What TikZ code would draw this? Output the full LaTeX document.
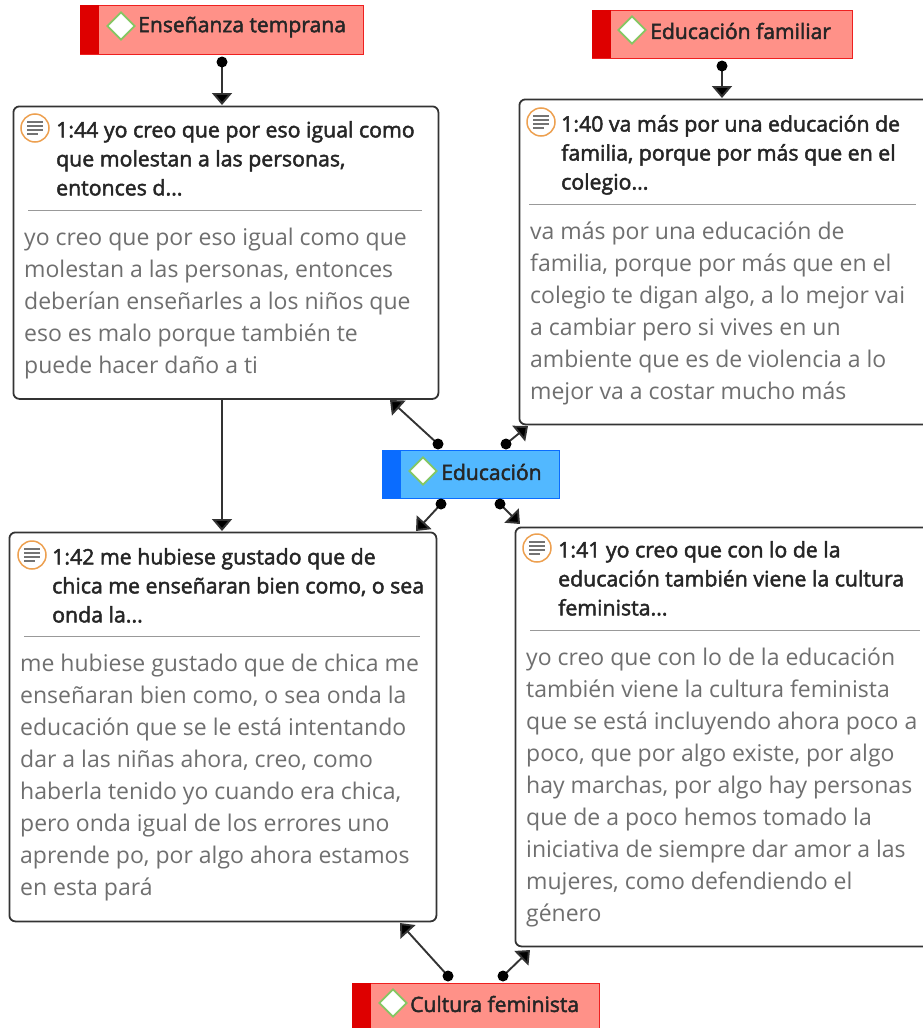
\documentclass[tikz,border=0pt]{standalone}
\usepackage{fontspec}
\setmainfont{Open Sans}
\newfontfamily\titlefont[FakeBold=2.2]{Open Sans}
\usetikzlibrary{arrows.meta,shapes.geometric}
\definecolor{redfill}{HTML}{FF9188}
\definecolor{redband}{HTML}{DE0000}
\definecolor{redline}{HTML}{EE2020}
\definecolor{bluefill}{HTML}{52B8FF}
\definecolor{blueband}{HTML}{0A6CFF}
\definecolor{greenline}{HTML}{84C763}
\definecolor{memoorange}{HTML}{EDA050}
\definecolor{bodygray}{HTML}{6F6F6F}
\definecolor{frame}{HTML}{333333}
\tikzset{
  x=1pt,y=-1pt,
  quotebox/.style={draw=frame,line width=1.8pt,rounded corners=6pt,fill=white,anchor=north west,inner sep=0pt},
  codered/.style={draw=redline,line width=1.3pt,fill=redfill,anchor=north west,inner sep=0pt},
  codeblue/.style={draw=blueband,line width=1.3pt,fill=bluefill,anchor=north west,inner sep=0pt},
  bandred/.style={fill=redband,anchor=north west,inner sep=0pt,minimum width=19pt},
  bandblue/.style={fill=blueband,anchor=north west,inner sep=0pt,minimum width=19pt},
  codemark/.style={diamond,draw=greenline,line width=1.8pt,fill=white,minimum width=28pt,minimum height=28pt,inner sep=0pt},
  codelabel/.style={anchor=west,inner sep=0pt,text=black!85,font=\titlefont\fontsize{21.1}{24}\selectfont},
  titletext/.style={anchor=north west,inner sep=0pt,align=left,text=black!85,font=\titlefont\fontsize{21.3}{29}\selectfont},
  bodytext/.style={anchor=north west,inner sep=0pt,align=left,text=bodygray,font=\fontsize{23}{32}\selectfont},
  memomark/.style={circle,draw=memoorange,line width=1.5pt,fill=white,minimum size=28pt,inner sep=0pt},
  rulebar/.style={draw=black!40,line width=1pt},
  memoline/.style={draw=black!55,line width=1.2pt},
  link/.style={draw=frame,line width=1.9pt,-{Triangle[length=12pt,width=20pt,fill=black]}},
  dot/.style={fill=black},
}
\newcommand{\memoglyph}[1]{%
  \draw[memoline] ([shift={(-8,-6)}]#1.center) -- ++(16,0);
  \draw[memoline] ([shift={(-8,-2)}]#1.center) -- ++(16,0);
  \draw[memoline] ([shift={(-8,2)}]#1.center) -- ++(16,0);
  \draw[memoline] ([shift={(-8,6)}]#1.center) -- ++(11,0);
}
\newcommand{\dotlink}[2]{\draw[link] (#1) -- (#2); \fill[dot] (#1) circle (5.5);}
\begin{document}
\begin{tikzpicture}
\useasboundingbox (0,0) rectangle (923,1028);
\clip (0,0) rectangle (923,1028);
% quotation boxes
\node[quotebox,minimum width=425pt,minimum height=292.5pt] (q44) at (12.5,105.5) {};
\node[quotebox,minimum width=420pt,minimum height=325pt] (q40) at (518.5,98.5) {};
\node[quotebox,minimum width=427pt,minimum height=389pt] (q42) at (8.5,531.5) {};
\node[quotebox,minimum width=424pt,minimum height=419pt] (q41) at (514.5,526.5) {};
% code boxes
\node[codered,minimum width=283pt,minimum height=49pt] (ens) at (80,5) {};
\node[bandred,minimum height=49pt] (ensb) at (80,5) {};
\node[codered,minimum width=260pt,minimum height=48pt] (fam) at (591.5,9.5) {};
\node[bandred,minimum height=48pt] (famb) at (591.5,9.5) {};
\node[codeblue,minimum width=177pt,minimum height=48pt] (edu) at (382,449.5) {};
\node[bandblue,minimum height=48pt] (edub) at (382,449.5) {};
\node[codered,minimum width=247pt,minimum height=60pt] (cul) at (352,982.5) {};
\node[bandred,minimum height=60pt] (culb) at (352,982.5) {};
% code marks and labels
\node[codemark] (ensm) at (121,26) {};
\node[codelabel] (ensl) at (138,27) {Enseñanza temprana};
\node[codemark] (famm) at (632,30) {};
\node[codelabel] (faml) at (650,31) {Educación familiar};
\node[codemark] (edum) at (423,471) {};
\node[codelabel] (edul) at (441,472) {Educación};
\node[codemark] (culm) at (393,1003) {};
\node[codelabel] (cull) at (410,1004) {Cultura feminista};
% quotation 1:44
\node[memomark] (m44) at (35,128) {};
\memoglyph{m44}
\node[titletext] (t44) at (56,121) {1:44 yo creo que por eso igual como\\que molestan a las personas,\\entonces d...};
\draw[rulebar] (28,210) -- (422,210);
\node[bodytext] (b44) at (24,228) {yo creo que por eso igual como que\\molestan a las personas, entonces\\deberían enseñarles a los niños que\\eso es malo porque también te\\puede hacer daño a ti};
% quotation 1:40
\node[memomark] (m40) at (541,122) {};
\memoglyph{m40}
\node[titletext] (t40) at (561,115) {1:40 va más por una educación de\\familia, porque por más que en el\\colegio...};
\draw[rulebar] (529,204) -- (916,204);
\node[bodytext] (b40) at (530,222) {va más por una educación de\\familia, porque por más que en el\\colegio te digan algo, a lo mejor vai\\a cambiar pero si vives en un\\ambiente que es de violencia a lo\\mejor va a costar mucho más};
% quotation 1:42
\node[memomark] (m42) at (32,555) {};
\memoglyph{m42}
\node[titletext] (t42) at (52,548) {1:42 me hubiese gustado que de\\chica me enseñaran bien como, o sea\\onda la...};
\draw[rulebar] (24,636) -- (420,636);
\node[bodytext] (b42) at (20,654) {me hubiese gustado que de chica me\\enseñaran bien como, o sea onda la\\educación que se le está intentando\\dar a las niñas ahora, creo, como\\haberla tenido yo cuando era chica,\\pero onda igual de los errores uno\\aprende po, por algo ahora estamos\\en esta pará};
% quotation 1:41
\node[memomark] (m41) at (537,548) {};
\memoglyph{m41}
\node[titletext] (t41) at (558,541) {1:41 yo creo que con lo de la\\educación también viene la cultura\\feminista...};
\draw[rulebar] (530,630) -- (920,630);
\node[bodytext] (b41) at (526,648) {yo creo que con lo de la educación\\también viene la cultura feminista\\que se está incluyendo ahora poco a\\poco, que por algo existe, por algo\\hay marchas, por algo hay personas\\que de a poco hemos tomado la\\iniciativa de siempre dar amor a las\\mujeres, como defendiendo el\\género};
% connector ends
\coordinate (d1) at (222,62);
\coordinate (a1) at (222,105);
\coordinate (d2) at (722,66);
\coordinate (a2) at (722,98);
\coordinate (a3) at (222,531);
\coordinate (d4) at (438,444);
\coordinate (a4) at (390,400);
\coordinate (d5) at (506,444);
\coordinate (a5) at (528,426);
\coordinate (d6) at (441,504);
\coordinate (a6) at (416,531);
\coordinate (d7) at (500,504);
\coordinate (a7) at (520,524);
\coordinate (d8) at (448,976);
\coordinate (a8) at (400,923);
\coordinate (d9) at (503,976);
\coordinate (a9) at (530,950);
% connectors
\dotlink{d1}{a1}
\dotlink{d2}{a2}
\draw[link] (q44.south -| a3) -- (a3);
\dotlink{d4}{a4}
\dotlink{d5}{a5}
\dotlink{d6}{a6}
\dotlink{d7}{a7}
\dotlink{d8}{a8}
\dotlink{d9}{a9}
\end{tikzpicture}
\end{document}
